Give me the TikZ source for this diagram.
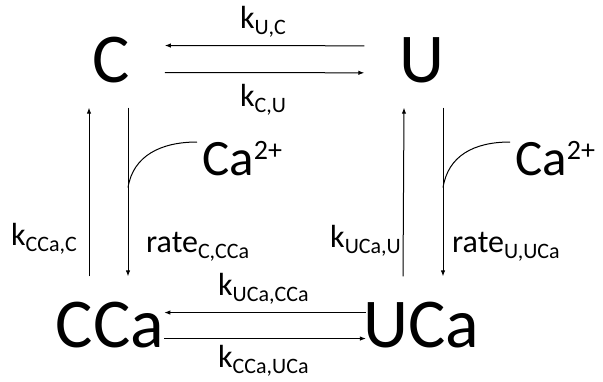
\documentclass[tikz,border=0pt]{standalone}
\usepackage{fontspec}
\setmainfont{Carlito}
\usetikzlibrary{arrows.meta}
\newcommand{\lo}[1]{\raisebox{-6pt}{\fontsize{22}{22}\selectfont #1}}
\newcommand{\hi}[1]{\raisebox{16pt}{\fontsize{28}{28}\selectfont #1}}

\begin{document}
\begin{tikzpicture}[x=1pt,y=-1pt,  % 1 unit = 1 px of the reference
  state/.style={font=\fontsize{70}{70}\selectfont,inner sep=0pt,anchor=base},
  ion/.style={font=\fontsize{51}{51}\selectfont,inner sep=0pt,anchor=base west},
  rlab/.style={font=\fontsize{32}{32}\selectfont,inner sep=0pt,anchor=base west},
  arr/.style={-{Latex[length=6pt,width=4.5pt]},line width=1pt},
  bind/.style={line width=1pt}]
  \useasboundingbox (0,0) rectangle (603,381);
  % ---- the four states
  \node[state] (C)   at (111,82)  {C};
  \node[state] (U)   at (422,82)  {U};
  \node[state] (CCa) at (110,347) {CCa};
  \node[state] (UCa) at (421,347) {UCa};
  % ---- calcium coming in
  \node[ion] (caL) at (202,175) {Ca\hi{2+}};
  \node[ion] (caR) at (515,175) {Ca\hi{2+}};
  % ---- top pair
  \draw[arr] ([xshift=-35pt,yshift=14pt]U.west) -- ([xshift=35pt,yshift=14pt]C.east);
  \draw[arr] ([xshift=35pt,yshift=-13pt]C.east) -- ([xshift=-35pt,yshift=-13pt]U.west);
  \node[rlab] (kUC) at (240,28)  {k\lo{U,C}};
  \node[rlab] (kCU) at (240,106) {k\lo{C,U}};
  % ---- bottom pair
  \draw[arr] ([xshift=3pt,yshift=12pt]UCa.west) -- ([xshift=0pt,yshift=12pt]CCa.east);
  \draw[arr] ([xshift=0pt,yshift=-14pt]CCa.east) -- ([xshift=3pt,yshift=-14pt]UCa.west);
  \node[rlab] (kUCaCCa) at (218,295) {k\lo{UCa,CCa}};
  \node[rlab] (kCCaUCa) at (218,367) {k\lo{CCa,UCa}};
  % ---- left column
  \draw[arr] ([xshift=-21pt,yshift=25pt]CCa.north) -- ([xshift=-22pt,yshift=-25pt]C.south);
  \draw[arr] ([xshift=17pt,yshift=-25pt]C.south) coordinate (jL) -- ([xshift=18pt,yshift=25pt]CCa.north);
  \draw[bind] ([yshift=-80pt]jL) .. controls +(5,-32) and +(-36,0) .. ([xshift=-5pt,yshift=33pt]caL.base west);
  \node[rlab] (kCCaC)  at (11,245)  {k\lo{CCa,C}};
  \node[rlab] (rCCCa)  at (146,252) {rate\lo{C,CCa}};
  % ---- right column
  \draw[arr] ([xshift=-18pt,yshift=25pt]UCa.north) -- ([xshift=-18pt,yshift=-25pt]U.south);
  \draw[arr] ([xshift=21pt,yshift=-25pt]U.south) coordinate (jR) -- ([xshift=22pt,yshift=25pt]UCa.north);
  \draw[bind] ([yshift=-80pt]jR) .. controls +(5,-32) and +(-36,0) .. ([xshift=-5pt,yshift=33pt]caR.base west);
  \node[rlab] (kUCaU)  at (330,247) {k\lo{UCa,U}};
  \node[rlab] (rUUCa)  at (452,252) {rate\lo{U,UCa}};
\end{tikzpicture}
\end{document}
